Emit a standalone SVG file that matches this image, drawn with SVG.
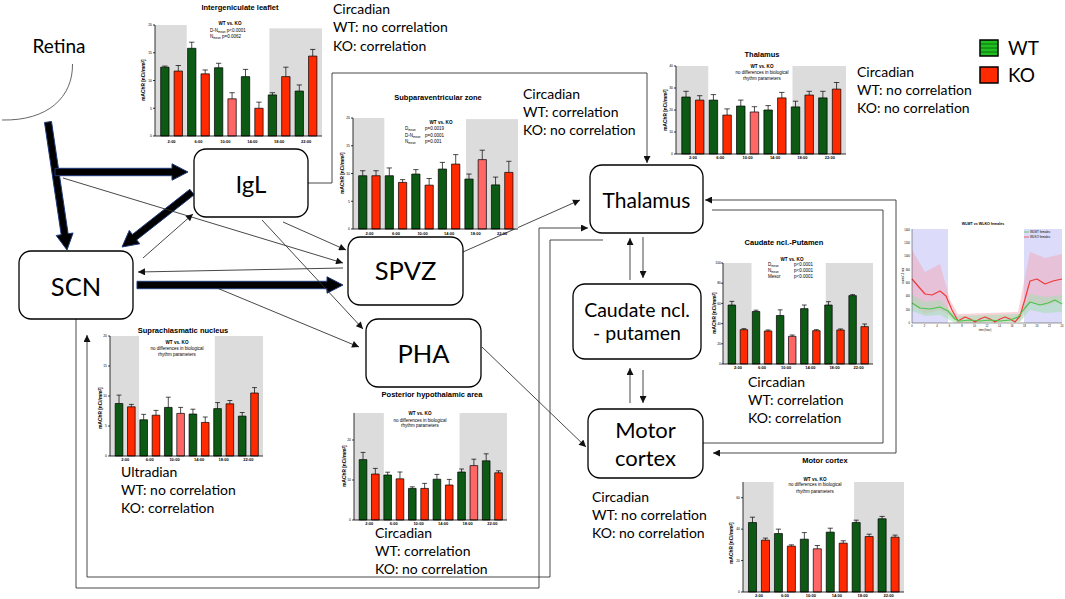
<svg xmlns="http://www.w3.org/2000/svg" width="1065" height="599" viewBox="0 0 1065 599">
<defs>
<style>
.bg{fill:#fff}
.gr{fill:#dcdcdc}
.wt{fill:#0c5a14;stroke:#000;stroke-width:0.7;vector-effect:non-scaling-stroke}
.ko{fill:#ff2a00;stroke:#000;stroke-width:0.7;vector-effect:non-scaling-stroke}
.kl{fill:#ff6666;stroke:#000;stroke-width:0.7;vector-effect:non-scaling-stroke}
.er{fill:none;stroke:#000;stroke-width:0.7;vector-effect:non-scaling-stroke}
.ax{fill:none;stroke:#000;stroke-width:0.8;vector-effect:non-scaling-stroke}
.ct{font-family:'Liberation Sans',Arial,sans-serif;font-weight:bold;font-size:7.5px;text-anchor:middle}
.tk{font-family:'Liberation Sans',Arial,sans-serif;font-size:3.4px;text-anchor:end}
.tl{font-family:'Liberation Sans',Arial,sans-serif;font-weight:bold;font-size:4px;text-anchor:middle}
.yl{font-family:'Liberation Sans',Arial,sans-serif;font-weight:bold;font-size:4.8px;text-anchor:middle}
.an{font-family:'Liberation Sans',Arial,sans-serif;font-size:4.5px}
.anc{font-family:'Liberation Sans',Arial,sans-serif;font-size:4.5px;text-anchor:middle}
.anb{font-family:'Liberation Sans',Arial,sans-serif;font-weight:bold;font-size:4.6px;text-anchor:middle}
.lbl{font-family:Lato,'Open Sans',sans-serif;font-size:14px;fill:#000}
.box{fill:#fff;stroke:#000;stroke-width:1.3}
.nt{font-family:Lato,'Open Sans',sans-serif;text-anchor:middle;fill:#000}
.cn{fill:none;stroke:#333;stroke-width:0.9}
.thick{fill:#000;stroke:#1f3a7a;stroke-width:1}
</style>
<marker id="ah" viewBox="0 0 10 10" refX="10" refY="5" markerWidth="8" markerHeight="7" markerUnits="userSpaceOnUse" orient="auto-start-reverse">
<path d="M0,0 L10,5 L0,10 z" fill="#111"/>
</marker>
</defs>
<rect class="bg" x="0" y="0" width="1065" height="599"/>

<!-- ===== Connectors ===== -->
<g id="connectors">
<polygon class="thick" points="51.5,121.5 68.1,233.7 73.1,233 67,250 56.2,235.5 61.2,234.7 44.5,122.5"/>
<polygon class="thick" points="55,168.3 172,168.3 172,163.8 188,172 172,180.2 172,175.7 55,175.7"/>
<polygon class="thick" points="194.2,194.8 136.7,239.9 139.8,243.8 122,247 129.3,230.4 132.4,234.4 189.8,189.3"/>
<polygon class="thick" points="137,281.3 327,281.3 327,276.8 343,285 327,293.2 327,288.7 137,288.7"/>
<line class="cn" x1="63" y1="178" x2="343" y2="263" marker-end="url(#ah)"/>
<line class="cn" x1="143" y1="258" x2="193" y2="214" marker-end="url(#ah)"/>
<line class="cn" x1="343" y1="268" x2="138" y2="272" marker-end="url(#ah)"/>
<line class="cn" x1="283" y1="222" x2="346" y2="250" marker-end="url(#ah)"/>
<line class="cn" x1="262" y1="220" x2="363" y2="329" marker-end="url(#ah)"/>
<line class="cn" x1="217" y1="288" x2="359" y2="347" marker-end="url(#ah)"/>
<line class="cn" x1="463" y1="252" x2="580" y2="200" marker-end="url(#ah)"/>
<polyline class="cn" points="308,183 332,183 332,73 647,73 647,163" marker-end="url(#ah)"/>
<line class="cn" x1="643" y1="237" x2="643" y2="278" marker-end="url(#ah)"/>
<line class="cn" x1="630" y1="280" x2="630" y2="238" marker-end="url(#ah)"/>
<line class="cn" x1="643" y1="370" x2="643" y2="403" marker-end="url(#ah)"/>
<line class="cn" x1="630" y1="403" x2="630" y2="368" marker-end="url(#ah)"/>
<line class="cn" x1="482" y1="347" x2="586" y2="447" marker-end="url(#ah)"/>
<polyline class="cn" points="76,319 76,588 539,588 539,228 588,228" marker-end="url(#ah)"/>
<polyline class="cn" points="603,240 550,240 550,577 87,577 87,335" marker-end="url(#ah)"/>
<polyline class="cn" points="713,453 896,453 896,200 705,200" marker-start="url(#ah)" marker-end="url(#ah)"/>
<polyline class="cn" points="712,210 883,210 883,443 703,443"/>
</g>

<!-- ===== Nodes ===== -->
<g id="node-retina">
<path d="M72.5 64 C73 97 48 121 2 120" fill="none" stroke="#555" stroke-width="0.9"/>
<text class="nt" x="59" y="53" font-size="19">Retina</text>
</g>
<g id="node-igl"><rect class="box" x="194" y="149" width="114" height="68" rx="12"/><text class="nt" x="251" y="193" font-size="24">IgL</text></g>
<g id="node-scn"><rect class="box" x="19" y="251" width="114" height="68" rx="12"/><text class="nt" x="76" y="296" font-size="25.5">SCN</text></g>
<g id="node-spvz"><rect class="box" x="348" y="237" width="115" height="68" rx="12"/><text class="nt" x="405.5" y="280" font-size="25.5">SPVZ</text></g>
<g id="node-pha"><rect class="box" x="366" y="319" width="115" height="68" rx="12"/><text class="nt" x="423.5" y="363" font-size="25.5">PHA</text></g>
<g id="node-thalamus"><rect class="box" x="590" y="165" width="113" height="68" rx="12"/><text class="nt" x="646.5" y="208" font-size="21">Thalamus</text></g>
<g id="node-caudate"><rect class="box" x="573" y="284" width="128" height="75" rx="12"/><text class="nt" x="637" y="317" font-size="19.5">Caudate ncl.</text><text class="nt" x="637" y="340" font-size="19.5">- putamen</text></g>
<g id="node-motor"><rect class="box" x="588" y="409" width="115" height="69" rx="12"/><text class="nt" x="645.5" y="438" font-size="22">Motor</text><text class="nt" x="645.5" y="466" font-size="22">cortex</text></g>

<!-- ===== Annotations ===== -->
<g id="annotations">
<text class="lbl" x="333" y="14">Circadian</text><text class="lbl" x="333" y="32">WT: no correlation</text><text class="lbl" x="333" y="51">KO: correlation</text>
<text class="lbl" x="523" y="99">Circadian</text><text class="lbl" x="523" y="117">WT: correlation</text><text class="lbl" x="523" y="135">KO: no correlation</text>
<text class="lbl" x="857" y="77">Circadian</text><text class="lbl" x="857" y="95">WT: no correlation</text><text class="lbl" x="857" y="113">KO: no correlation</text>
<text class="lbl" x="748" y="387">Circadian</text><text class="lbl" x="748" y="405">WT: correlation</text><text class="lbl" x="748" y="423">KO: correlation</text>
<text class="lbl" x="121" y="477">Ultradian</text><text class="lbl" x="121" y="495">WT: no correlation</text><text class="lbl" x="121" y="513">KO: correlation</text>
<text class="lbl" x="375" y="538">Circadian</text><text class="lbl" x="375" y="556">WT: correlation</text><text class="lbl" x="375" y="574">KO: no correlation</text>
<text class="lbl" x="592" y="502">Circadian</text><text class="lbl" x="592" y="520">WT: no correlation</text><text class="lbl" x="592" y="538">KO: no correlation</text>
</g>

<!-- ===== Legend ===== -->
<g id="legend">
<rect x="980" y="40" width="18" height="16" fill="#1fbf1f" stroke="#000" stroke-width="1.5"/>
<path d="M981 44H997M981 48H997M981 52H997" stroke="#0a5a0a" stroke-width="0.8"/>
<text class="nt" x="1008" y="55" font-size="19" style="text-anchor:start">WT</text>
<rect x="980" y="67" width="18" height="16" fill="#ff2a00" stroke="#000" stroke-width="1.5"/>
<text class="nt" x="1008" y="82" font-size="19" style="text-anchor:start">KO</text>
</g>

<!-- ===== Chart IgL ===== -->
<g id="chart-igl">
<text class="ct" x="240" y="10">Intergeniculate leaflet</text>
<g transform="translate(155,136) scale(1.67,-5.55)">
<rect class="gr" x="0" y="0" width="19" height="20"/><rect class="gr" x="68.5" y="0" width="31.5" height="19.4"/>
<rect class="wt" x="3.4" y="0" width="5" height="12.4"/><rect class="ko" x="11.45" y="0" width="5" height="11.7"/>
<rect class="wt" x="19.5" y="0" width="5" height="15.8"/><rect class="ko" x="27.55" y="0" width="5" height="11.2"/>
<rect class="wt" x="35.6" y="0" width="5" height="12.3"/><rect class="kl" x="43.65" y="0" width="5" height="6.7"/>
<rect class="wt" x="51.7" y="0" width="5" height="10.7"/><rect class="ko" x="59.75" y="0" width="5" height="5"/>
<rect class="wt" x="67.8" y="0" width="5" height="7.4"/><rect class="ko" x="75.85" y="0" width="5" height="10.7"/>
<rect class="wt" x="83.9" y="0" width="5" height="8.1"/><rect class="ko" x="91.95" y="0" width="5" height="14.4"/>
<path class="er" d="M5.9 12.4V12.6m-1.6 0h3.2M13.95 11.7V12.7m-1.6 0h3.2M22 15.8V16.9m-1.6 0h3.2M30.05 11.2V11.9m-1.6 0h3.2M38.1 12.3V13.1m-1.6 0h3.2M46.15 6.7V7.8m-1.6 0h3.2M54.2 10.7V12m-1.6 0h3.2M62.25 5V6.1m-1.6 0h3.2M70.3 7.4V7.8m-1.6 0h3.2M78.35 10.7V12.4m-1.6 0h3.2M86.4 8.1V9.2m-1.6 0h3.2M94.45 14.4V15.6m-1.6 0h3.2"/>
<path class="ax" d="M0 20V0H100M0 0h-1.2M0 5h-1.2M0 10h-1.2M0 15h-1.2M0 20h-1.2"/>
</g>
<text class="tk" x="152" y="137">0</text><text class="tk" x="152" y="109.5">5</text><text class="tk" x="152" y="81.7">10</text><text class="tk" x="152" y="54">15</text><text class="tk" x="152" y="26.2">20</text>
<text class="tl" x="171.6" y="142.5">2:00</text><text class="tl" x="198.5" y="142.5">6:00</text><text class="tl" x="225.4" y="142.5">10:00</text><text class="tl" x="252.3" y="142.5">14:00</text><text class="tl" x="279.2" y="142.5">18:00</text><text class="tl" x="306.1" y="142.5">22:00</text>
<text class="yl" transform="translate(145,80) rotate(-90)">mAChR [nCi/mm<tspan font-size="3" dy="-1.5">2</tspan><tspan dy="1.5">]</tspan></text>
<text class="anb" x="230" y="25">WT vs. KO</text>
<text class="an" x="210" y="31.5">D-N<tspan font-size="3" dy="1">mean</tspan><tspan dy="-1"> p&lt;0.0001</tspan></text>
<text class="an" x="210" y="38">N<tspan font-size="3" dy="1">mean</tspan><tspan dy="-1"> p=0.0062</tspan></text>
</g>

<!-- ===== Chart SPVZ ===== -->
<g id="chart-spvz">
<text class="ct" x="438" y="100">Subparaventricular zone</text>
<g transform="translate(353,229) scale(1.65,-5.55)">
<rect class="gr" x="0" y="0" width="19" height="20"/><rect class="gr" x="68.5" y="0" width="31.5" height="19.8"/>
<rect class="wt" x="3.4" y="0" width="5" height="9.6"/><rect class="ko" x="11.45" y="0" width="5" height="9.6"/>
<rect class="wt" x="19.5" y="0" width="5" height="9.6"/><rect class="ko" x="27.55" y="0" width="5" height="8.4"/>
<rect class="wt" x="35.6" y="0" width="5" height="9.9"/><rect class="ko" x="43.65" y="0" width="5" height="7.9"/>
<rect class="wt" x="51.7" y="0" width="5" height="10.8"/><rect class="ko" x="59.75" y="0" width="5" height="11.7"/>
<rect class="wt" x="67.8" y="0" width="5" height="9"/><rect class="kl" x="75.85" y="0" width="5" height="12.5"/>
<rect class="wt" x="83.9" y="0" width="5" height="7.95"/><rect class="ko" x="91.95" y="0" width="5" height="10.2"/>
<path class="er" d="M5.9 9.6V10.5m-1.6 0h3.2M13.95 9.6V10.5m-1.6 0h3.2M22 9.6V11m-1.6 0h3.2M30.05 8.4V8.9m-1.6 0h3.2M38.1 9.9V10.7m-1.6 0h3.2M46.15 7.9V9.1m-1.6 0h3.2M54.2 10.8V12m-1.6 0h3.2M62.25 11.7V13.4m-1.6 0h3.2M70.3 9V9.9m-1.6 0h3.2M78.35 12.5V14.2m-1.6 0h3.2M86.4 7.95V9.35m-1.6 0h3.2M94.45 10.2V12.2m-1.6 0h3.2"/>
<path class="ax" d="M0 20V0H100M0 0h-1.2M0 5h-1.2M0 10h-1.2M0 15h-1.2M0 20h-1.2"/>
</g>
<text class="tk" x="350" y="230">0</text><text class="tk" x="350" y="202.5">5</text><text class="tk" x="350" y="174.7">10</text><text class="tk" x="350" y="147">15</text><text class="tk" x="350" y="119.2">20</text>
<text class="tl" x="369.4" y="235">2:00</text><text class="tl" x="396" y="235">6:00</text><text class="tl" x="422.5" y="235">10:00</text><text class="tl" x="449.1" y="235">14:00</text><text class="tl" x="475.7" y="235">18:00</text><text class="tl" x="502.2" y="235">22:00</text>
<text class="yl" transform="translate(344,173) rotate(-90)">mAChR [nCi/mm<tspan font-size="3" dy="-1.5">2</tspan><tspan dy="1.5">]</tspan></text>
<text class="anb" x="441" y="123.5">WT vs. KO</text>
<text class="an" x="405" y="130">D<tspan font-size="3" dy="1">mean</tspan></text><text class="an" x="425" y="130">p=0.0019</text>
<text class="an" x="405" y="136.5">D-N<tspan font-size="3" dy="1">mean</tspan></text><text class="an" x="425" y="136.5">p=0.0001</text>
<text class="an" x="405" y="143">N<tspan font-size="3" dy="1">mean</tspan></text><text class="an" x="425" y="143">p=0.001</text>
</g>

<!-- ===== Chart Thalamus ===== -->
<g id="chart-thalamus">
<text class="ct" x="762" y="57">Thalamus</text>
<g transform="translate(676,154) scale(1.7,-2.2)">
<rect class="gr" x="0" y="0" width="19" height="40"/><rect class="gr" x="68.5" y="0" width="31.5" height="40"/>
<rect class="wt" x="3.4" y="0" width="5" height="25.9"/><rect class="ko" x="11.45" y="0" width="5" height="24.5"/>
<rect class="wt" x="19.5" y="0" width="5" height="24.5"/><rect class="ko" x="27.55" y="0" width="5" height="17.7"/>
<rect class="wt" x="35.6" y="0" width="5" height="21.8"/><rect class="kl" x="43.65" y="0" width="5" height="19.1"/>
<rect class="wt" x="51.7" y="0" width="5" height="20"/><rect class="ko" x="59.75" y="0" width="5" height="25.5"/>
<rect class="wt" x="67.8" y="0" width="5" height="21.4"/><rect class="ko" x="75.85" y="0" width="5" height="26.8"/>
<rect class="wt" x="83.9" y="0" width="5" height="25.5"/><rect class="ko" x="91.95" y="0" width="5" height="29.5"/>
<path class="er" d="M5.9 25.9V28.5m-1.6 0h3.2M13.95 24.5V26.5m-1.6 0h3.2M22 24.5V27m-1.6 0h3.2M30.05 17.7V20.5m-1.6 0h3.2M38.1 21.8V24.5m-1.6 0h3.2M46.15 19.1V21.5m-1.6 0h3.2M54.2 20V22m-1.6 0h3.2M62.25 25.5V28m-1.6 0h3.2M70.3 21.4V24m-1.6 0h3.2M78.35 26.8V28.5m-1.6 0h3.2M86.4 25.5V28.5m-1.6 0h3.2M94.45 29.5V32.5m-1.6 0h3.2"/>
<path class="ax" d="M0 40V0H100M0 0h-1.2M0 10h-1.2M0 20h-1.2M0 30h-1.2M0 40h-1.2"/>
</g>
<text class="tk" x="673" y="155">0</text><text class="tk" x="673" y="133">10</text><text class="tk" x="673" y="111">20</text><text class="tk" x="673" y="89">30</text><text class="tk" x="673" y="67">40</text>
<text class="tl" x="692.9" y="159">2:00</text><text class="tl" x="720.3" y="159">6:00</text><text class="tl" x="747.7" y="159">10:00</text><text class="tl" x="775" y="159">14:00</text><text class="tl" x="802.4" y="159">18:00</text><text class="tl" x="829.8" y="159">22:00</text>
<text class="yl" transform="translate(667,110) rotate(-90)">mAChR [nCi/mm<tspan font-size="3" dy="-1.5">2</tspan><tspan dy="1.5">]</tspan></text>
<text class="anb" x="762" y="68">WT vs. KO</text>
<text class="anc" x="762" y="74">no differences in biological</text>
<text class="anc" x="762" y="80">rhythm parameters</text>
</g>

<!-- ===== Chart Caudate ===== -->
<g id="chart-caudate">
<text class="ct" x="784" y="245">Caudate ncl.-Putamen</text>
<g transform="translate(723,364) scale(1.5,-1.01)">
<rect class="gr" x="0" y="0" width="19" height="100"/><rect class="gr" x="68.5" y="0" width="31.5" height="100"/>
<rect class="wt" x="3.4" y="0" width="5" height="58.4"/><rect class="ko" x="11.45" y="0" width="5" height="34"/>
<rect class="wt" x="19.5" y="0" width="5" height="52"/><rect class="ko" x="27.55" y="0" width="5" height="32.7"/>
<rect class="wt" x="35.6" y="0" width="5" height="48"/><rect class="kl" x="43.65" y="0" width="5" height="27.4"/>
<rect class="wt" x="51.7" y="0" width="5" height="54.8"/><rect class="ko" x="59.75" y="0" width="5" height="33"/>
<rect class="wt" x="67.8" y="0" width="5" height="58.4"/><rect class="ko" x="75.85" y="0" width="5" height="33.7"/>
<rect class="wt" x="83.9" y="0" width="5" height="67.7"/><rect class="ko" x="91.95" y="0" width="5" height="37"/>
<path class="er" d="M5.9 58.4V62m-1.6 0h3.2M13.95 34V35m-1.6 0h3.2M22 52V53.3m-1.6 0h3.2M30.05 32.7V33.7m-1.6 0h3.2M38.1 48V53.6m-1.6 0h3.2M46.15 27.4V28.7m-1.6 0h3.2M54.2 54.8V58.4m-1.6 0h3.2M62.25 33V34m-1.6 0h3.2M70.3 58.4V61.7m-1.6 0h3.2M78.35 33.7V34.7m-1.6 0h3.2M86.4 67.7V68.7m-1.6 0h3.2M94.45 37V39.6m-1.6 0h3.2"/>
<path class="ax" d="M0 100V0H100M0 0h-1.2M0 20h-1.2M0 40h-1.2M0 60h-1.2M0 80h-1.2M0 100h-1.2"/>
</g>
<text class="tk" x="721" y="365">0</text><text class="tk" x="721" y="345">20</text><text class="tk" x="721" y="324.8">40</text><text class="tk" x="721" y="304.6">60</text><text class="tk" x="721" y="284.4">80</text><text class="tk" x="721" y="264.2">100</text>
<text class="tl" x="737.9" y="369">2:00</text><text class="tl" x="762" y="369">6:00</text><text class="tl" x="786.2" y="369">10:00</text><text class="tl" x="810.3" y="369">14:00</text><text class="tl" x="834.5" y="369">18:00</text><text class="tl" x="858.7" y="369">22:00</text>
<text class="yl" transform="translate(716,313) rotate(-90)">mAChR [nCi/mm<tspan font-size="3" dy="-1.5">2</tspan><tspan dy="1.5">]</tspan></text>
<text class="anb" x="792" y="260.5">WT vs. KO</text>
<text class="an" x="768" y="266">D<tspan font-size="3" dy="1">mean</tspan></text><text class="an" x="794" y="266">p&lt;0.0001</text>
<text class="an" x="768" y="272">N<tspan font-size="3" dy="1">mean</tspan></text><text class="an" x="794" y="272">p&lt;0.0001</text>
<text class="an" x="768" y="278">Mesor</text><text class="an" x="794" y="278">p&lt;0.0001</text>
</g>

<!-- ===== Chart SCN ===== -->
<g id="chart-scn">
<text class="ct" x="183" y="333">Suprachiasmatic nucleus</text>
<g transform="translate(110,456) scale(1.53,-6)">
<rect class="gr" x="0" y="0" width="19" height="20"/><rect class="gr" x="68.5" y="0" width="31.5" height="20"/>
<rect class="wt" x="3.4" y="0" width="5" height="8.75"/><rect class="ko" x="11.45" y="0" width="5" height="8.2"/>
<rect class="wt" x="19.5" y="0" width="5" height="6.04"/><rect class="ko" x="27.55" y="0" width="5" height="6.8"/>
<rect class="wt" x="35.6" y="0" width="5" height="8.1"/><rect class="kl" x="43.65" y="0" width="5" height="7.1"/>
<rect class="wt" x="51.7" y="0" width="5" height="7"/><rect class="ko" x="59.75" y="0" width="5" height="5.6"/>
<rect class="wt" x="67.8" y="0" width="5" height="7.9"/><rect class="ko" x="75.85" y="0" width="5" height="8.7"/>
<rect class="wt" x="83.9" y="0" width="5" height="6.65"/><rect class="ko" x="91.95" y="0" width="5" height="10.5"/>
<path class="er" d="M5.9 8.75V10.15m-1.6 0h3.2M13.95 8.2V8.6m-1.6 0h3.2M22 6.04V6.94m-1.6 0h3.2M30.05 6.8V7.6m-1.6 0h3.2M38.1 8.1V9.8m-1.6 0h3.2M46.15 7.1V8.1m-1.6 0h3.2M54.2 7V7.8m-1.6 0h3.2M62.25 5.6V6.5m-1.6 0h3.2M70.3 7.9V8.9m-1.6 0h3.2M78.35 8.7V9.25m-1.6 0h3.2M86.4 6.65V7.25m-1.6 0h3.2M94.45 10.5V11.4m-1.6 0h3.2"/>
<path class="ax" d="M0 20V0H100M0 0h-1.2M0 5h-1.2M0 10h-1.2M0 15h-1.2M0 20h-1.2"/>
</g>
<text class="tk" x="107" y="457">0</text><text class="tk" x="107" y="427">5</text><text class="tk" x="107" y="397">10</text><text class="tk" x="107" y="367">15</text><text class="tk" x="107" y="337">20</text>
<text class="tl" x="125.2" y="461">2:00</text><text class="tl" x="149.8" y="461">6:00</text><text class="tl" x="174.5" y="461">10:00</text><text class="tl" x="199.1" y="461">14:00</text><text class="tl" x="223.7" y="461">18:00</text><text class="tl" x="248.4" y="461">22:00</text>
<text class="yl" transform="translate(102,408) rotate(-90)">mAChR [nCi/mm<tspan font-size="3" dy="-1.5">2</tspan><tspan dy="1.5">]</tspan></text>
<text class="anb" x="177" y="344">WT vs. KO</text>
<text class="anc" x="177" y="350">no differences in biological</text>
<text class="anc" x="177" y="355.5">rhythm parameters</text>
</g>

<!-- ===== Chart PHA ===== -->
<g id="chart-pha">
<text class="ct" x="432" y="397">Posterior hypothalamic area</text>
<g transform="translate(354,520) scale(1.53,-4)">
<rect class="gr" x="0" y="0" width="19.5" height="26.75"/><rect class="gr" x="69" y="0" width="31" height="26.75"/>
<rect class="wt" x="3.4" y="0" width="5" height="15.1"/><rect class="ko" x="11.45" y="0" width="5" height="11.5"/>
<rect class="wt" x="19.5" y="0" width="5" height="11.25"/><rect class="ko" x="27.55" y="0" width="5" height="10.3"/>
<rect class="wt" x="35.6" y="0" width="5" height="7.9"/><rect class="ko" x="43.65" y="0" width="5" height="7.9"/>
<rect class="wt" x="51.7" y="0" width="5" height="10.2"/><rect class="ko" x="59.75" y="0" width="5" height="8.75"/>
<rect class="wt" x="67.8" y="0" width="5" height="12"/><rect class="kl" x="75.85" y="0" width="5" height="13.6"/>
<rect class="wt" x="83.9" y="0" width="5" height="14.8"/><rect class="ko" x="91.95" y="0" width="5" height="11.8"/>
<path class="er" d="M5.9 15.1V16.9m-1.6 0h3.2M13.95 11.5V12.9m-1.6 0h3.2M22 11.25V11.95m-1.6 0h3.2M30.05 10.3V12m-1.6 0h3.2M38.1 7.9V8.3m-1.6 0h3.2M46.15 7.9V9.15m-1.6 0h3.2M54.2 10.2V11.4m-1.6 0h3.2M62.25 8.75V10.15m-1.6 0h3.2M70.3 12V12.75m-1.6 0h3.2M78.35 13.6V15.2m-1.6 0h3.2M86.4 14.8V16.55m-1.6 0h3.2M94.45 11.8V12.3m-1.6 0h3.2"/>
<path class="ax" d="M0 26.75V0H100M0 0h-1.2M0 10h-1.2M0 20h-1.2"/>
</g>
<text class="tk" x="351" y="521">0</text><text class="tk" x="351" y="481">10</text><text class="tk" x="351" y="441">20</text>
<text class="tl" x="369.2" y="525">2:00</text><text class="tl" x="393.8" y="525">6:00</text><text class="tl" x="418.5" y="525">10:00</text><text class="tl" x="443.1" y="525">14:00</text><text class="tl" x="467.7" y="525">18:00</text><text class="tl" x="492.4" y="525">22:00</text>
<text class="yl" transform="translate(346,466) rotate(-90)">mAChR [nCi/mm<tspan font-size="3" dy="-1.5">2</tspan><tspan dy="1.5">]</tspan></text>
<text class="anb" x="420" y="415">WT vs. KO</text>
<text class="anc" x="420" y="421.5">no differences in biological</text>
<text class="anc" x="420" y="427">rhythm parameters</text>
</g>

<!-- ===== Chart Motor ===== -->
<g id="chart-motor">
<text class="ct" x="825" y="463">Motor cortex</text>
<g transform="translate(743,592) scale(1.61,-1.5714)">
<rect class="gr" x="0" y="0" width="19" height="70"/><rect class="gr" x="69" y="0" width="31" height="70"/>
<rect class="wt" x="3.4" y="0" width="5" height="44.2"/><rect class="ko" x="11.45" y="0" width="5" height="33"/>
<rect class="wt" x="19.5" y="0" width="5" height="37.2"/><rect class="ko" x="27.55" y="0" width="5" height="29.2"/>
<rect class="wt" x="35.6" y="0" width="5" height="33.6"/><rect class="kl" x="43.65" y="0" width="5" height="27.5"/>
<rect class="wt" x="51.7" y="0" width="5" height="38.1"/><rect class="ko" x="59.75" y="0" width="5" height="31.1"/>
<rect class="wt" x="67.8" y="0" width="5" height="44.2"/><rect class="ko" x="75.85" y="0" width="5" height="35.3"/>
<rect class="wt" x="83.9" y="0" width="5" height="46.6"/><rect class="ko" x="91.95" y="0" width="5" height="34.9"/>
<path class="er" d="M5.9 44.2V47.6m-1.6 0h3.2M13.95 33V34.3m-1.6 0h3.2M22 37.2V40m-1.6 0h3.2M30.05 29.2V30m-1.6 0h3.2M38.1 33.6V37.8m-1.6 0h3.2M46.15 27.5V29.6m-1.6 0h3.2M54.2 38.1V40.6m-1.6 0h3.2M62.25 31.1V32.6m-1.6 0h3.2M70.3 44.2V45.7m-1.6 0h3.2M78.35 35.3V36.8m-1.6 0h3.2M86.4 46.6V48.1m-1.6 0h3.2M94.45 34.9V36.2m-1.6 0h3.2"/>
<path class="ax" d="M0 70V0H100M0 0h-1.2M0 20h-1.2M0 40h-1.2M0 60h-1.2"/>
</g>
<text class="tk" x="740" y="593">0</text><text class="tk" x="740" y="561.6">20</text><text class="tk" x="740" y="530.1">40</text><text class="tk" x="740" y="498.7">60</text>
<text class="tl" x="759" y="597">2:00</text><text class="tl" x="784.9" y="597">6:00</text><text class="tl" x="810.8" y="597">10:00</text><text class="tl" x="836.8" y="597">14:00</text><text class="tl" x="862.7" y="597">18:00</text><text class="tl" x="888.6" y="597">22:00</text>
<text class="yl" transform="translate(733,543) rotate(-90)">mAChR [nCi/mm<tspan font-size="3" dy="-1.5">2</tspan><tspan dy="1.5">]</tspan></text>
<text class="anb" x="815" y="480.5">WT vs. KO</text>
<text class="anc" x="815" y="486">no differences in biological</text>
<text class="anc" x="815" y="492.5">rhythm parameters</text>
</g>

<!-- ===== Activity chart ===== -->
<g id="chart-activity">
<text x="983" y="225" font-family="'Liberation Sans',Arial,sans-serif" font-size="3.6" font-weight="bold" text-anchor="middle">WLWT vs WLKO females</text>
<rect x="912" y="229" width="36" height="94" fill="#dcdcfa"/>
<rect x="1024" y="229" width="38" height="94" fill="#dcdcfa"/>
<path d="M912 250 L925 272 L940 264 L950 300 L958 314 L1018 312 L1030 252 L1045 258 L1062 254 L1062 300 L1045 306 L1030 302 L1020 321 L958 323 L948 315 L940 310 L925 314 L912 304 Z" fill="#f2a0b0" fill-opacity="0.45"/>
<path d="M912 295 L925 302 L940 300 L955 316 L1020 314 L1030 294 L1045 297 L1062 295 L1062 312 L1045 313 L1030 310 L1020 322 L955 323 L940 315 L925 316 L912 311 Z" fill="#a8dcb0" fill-opacity="0.55"/>
<polyline points="912,279 918,286 925,294 932,295 940,291 946,296 952,310 958,321 965,317 970,319 975,322 980,319 985,317 990,319 995,322 1000,319 1005,317 1010,319 1015,322 1020,316 1025,299 1030,281 1037,279 1045,284 1053,281 1062,279" fill="none" stroke="#f03a3a" stroke-width="1.2" stroke-linejoin="round"/>
<polyline points="912,303 920,308 930,309 940,307 948,311 955,319 960,321 970,320 980,321 990,320 1000,321 1010,320 1018,317 1025,308 1030,302 1040,305 1048,303 1055,300 1062,304" fill="none" stroke="#4cc44c" stroke-width="1.2" stroke-linejoin="round"/>
<path d="M912 229V323H1062" fill="none" stroke="#333" stroke-width="0.5"/>
<line x1="1024" y1="232" x2="1029" y2="232" stroke="#4cc44c" stroke-width="0.8"/>
<line x1="1024" y1="237" x2="1029" y2="237" stroke="#f03a3a" stroke-width="0.8"/>
<text x="1030" y="233" font-family="'Liberation Sans',Arial,sans-serif" font-size="3">WLWT females</text>
<text x="1030" y="238" font-family="'Liberation Sans',Arial,sans-serif" font-size="3">WLKO females</text>
<g font-family="'Liberation Sans',Arial,sans-serif" font-size="2.6" text-anchor="end">
<text x="910" y="324">0</text><text x="910" y="310.5">200</text><text x="910" y="297">400</text><text x="910" y="284">600</text><text x="910" y="270.5">800</text><text x="910" y="257">1000</text><text x="910" y="244">1200</text><text x="910" y="230.5">1400</text>
</g>
<g font-family="'Liberation Sans',Arial,sans-serif" font-size="2.6" text-anchor="middle">
<text x="912" y="327">0</text><text x="924.5" y="327">2</text><text x="937" y="327">4</text><text x="949.5" y="327">6</text><text x="962" y="327">8</text><text x="974.5" y="327">10</text><text x="987" y="327">12</text><text x="999.5" y="327">14</text><text x="1012" y="327">16</text><text x="1024.5" y="327">18</text><text x="1037" y="327">20</text><text x="1049.5" y="327">22</text><text x="1062" y="327">24</text>
<text x="985" y="331">time (hour)</text>
<text transform="translate(904,276) rotate(-90)">counts/15 min</text>
</g>
</g>
</svg>
